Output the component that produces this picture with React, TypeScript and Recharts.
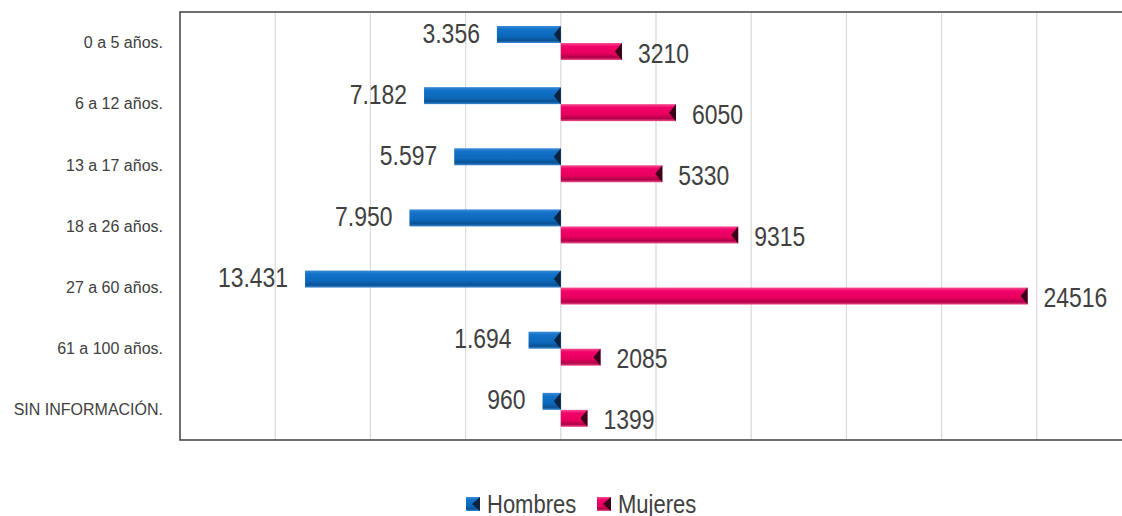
import { BarChart, Bar, XAxis, YAxis, CartesianGrid, LabelList, ReferenceArea } from "recharts";

const categories = [
  "0 a 5 años.",
  "6 a 12 años.",
  "13 a 17 años.",
  "18 a 26 años.",
  "27 a 60 años.",
  "61 a 100 años.",
  "SIN INFORMACIÓN.",
];
const hombres = [3356, 7182, 5597, 7950, 13431, 1694, 960];
const mujeres = [3210, 6050, 5330, 9315, 24516, 2085, 1399];
const gridTicks = [-15000, -10000, -5000, 0, 5000, 10000, 15000, 20000, 25000];
const X_MIN = -20000;
const X_MAX = 30000;

const data = categories.map((name, i) => ({
  name,
  hombres: -hombres[i],
  mujeres: mujeres[i],
}));

const FONT = "'Liberation Sans', Arial, sans-serif";
const TEXT = "#404040";
const SQUEEZE = 0.85; // source font is a narrow one

// dot as thousands separator, like the source
const fmtDot = (v: number) => Math.abs(v).toString().replace(/\B(?=(\d{3})+(?!\d))/g, ".");

function BevelBar(props: any) {
  const { x, y, width, height, fill, dark } = props;
  const x0 = Math.min(x, x + width);
  const w = Math.abs(width);
  if (!w) return null;
  const tip = Math.min(7, w);
  return (
    <g>
      <rect x={x0} y={y} width={w} height={height} fill={fill} />
      <polygon
        points={`${x0 + w},${y} ${x0 + w},${y + height} ${x0 + w - tip},${y + height / 2}`}
        fill={dark}
      />
    </g>
  );
}

function NarrowText({ x, y, anchor, children }: any) {
  return (
    <text
      transform={`translate(${x},${y}) scale(${SQUEEZE},1)`}
      textAnchor={anchor}
      dominantBaseline="middle"
      fontSize={27}
      fontFamily={FONT}
      fill={TEXT}
    >
      {children}
    </text>
  );
}

const HombresLabel = (props: any) => {
  const { x, y, width, height, value } = props;
  const left = Math.min(x, x + width);
  return <NarrowText x={left - 17} y={y + height / 2 + 1} anchor="end">{fmtDot(value)}</NarrowText>;
};

const MujeresLabel = (props: any) => {
  const { x, y, width, height, value } = props;
  const right = Math.max(x, x + width);
  return <NarrowText x={right + 16} y={y + height / 2 + 4} anchor="start">{value}</NarrowText>;
};

function LegendIcon({ grad, dark }: { grad: string; dark: string }) {
  return (
    <svg width={14} height={14} style={{ display: "block" }}>
      <rect x={0} y={0} width={14} height={14} fill={`url(#${grad})`} />
      <polygon points="14,0 14,14 6,7" fill={dark} />
    </svg>
  );
}

function LegendText({ children, width }: { children: string; width: number }) {
  return (
    <span style={{ display: "inline-block", width, whiteSpace: "nowrap" }}>
      <span style={{ display: "inline-block", transform: "scaleX(0.88)", transformOrigin: "left center" }}>
        {children}
      </span>
    </span>
  );
}

// vertical grid lines at the 5000 steps of the x domain
const gridX = (props: any) => {
  const scale = props?.xAxis?.scale;
  if (typeof scale === "function") return gridTicks.map((t) => scale(t));
  if (scale && typeof scale.map === "function") return gridTicks.map((t) => scale.map(t));
  const offset = props?.offset;
  if (!offset) return [];
  return gridTicks.map((t) => offset.left + ((t - X_MIN) / (X_MAX - X_MIN)) * offset.width);
};

export default function App() {
  return (
    <div style={{ position: "fixed", left: 0, top: 0, width: 1122, height: 516, background: "#fff", overflow: "hidden" }}>
      <svg width={0} height={0} style={{ position: "absolute" }}>
        <defs>
          <linearGradient id="gBlue" x1="0" y1="0" x2="0" y2="1">
            <stop offset="0%" stopColor="#3a8ad6" />
            <stop offset="20%" stopColor="#1272c8" />
            <stop offset="60%" stopColor="#0c69bc" />
            <stop offset="85%" stopColor="#0b5194" />
            <stop offset="100%" stopColor="#3a8ad4" />
          </linearGradient>
          <linearGradient id="gPink" x1="0" y1="0" x2="0" y2="1">
            <stop offset="0%" stopColor="#f4508f" />
            <stop offset="20%" stopColor="#f2006a" />
            <stop offset="60%" stopColor="#e8005e" />
            <stop offset="85%" stopColor="#b0004a" />
            <stop offset="100%" stopColor="#f0508a" />
          </linearGradient>
        </defs>
      </svg>
      <BarChart
        width={1132}
        height={448}
        data={data}
        layout="vertical"
        margin={{ top: 12, right: 0, bottom: 7, left: 0 }}
        barGap={0}
      >
        <CartesianGrid
          horizontal={false}
          stroke="#d9d9d9"
          strokeWidth={1.2}
          verticalCoordinatesGenerator={gridX}
        />
        <XAxis
          type="number"
          domain={[X_MIN, X_MAX]}
          allowDataOverflow
          ticks={gridTicks}
          tick={false}
          tickLine={false}
          axisLine={false}
          height={1}
        />
        <YAxis
          type="category"
          dataKey="name"
          width={180}
          tickLine={false}
          tickSize={0}
          tickMargin={17}
          axisLine={false}
          tick={{ fontSize: 16, fontFamily: FONT, fill: TEXT }}
          interval={0}
        />
        <ReferenceArea
          x1={X_MIN}
          x2={X_MAX + 2000}
          ifOverflow="visible"
          fill="none"
          fillOpacity={0}
          stroke="#404040"
          strokeWidth={1.5}
        />
        <Bar
          dataKey="hombres"
          name="Hombres"
          barSize={17}
          fill="url(#gBlue)"
          isAnimationActive={false}
          shape={(p: any) => <BevelBar {...p} fill="url(#gBlue)" dark="#0a2340" />}
        >
          <LabelList dataKey="hombres" content={HombresLabel} />
        </Bar>
        <Bar
          dataKey="mujeres"
          name="Mujeres"
          barSize={17}
          fill="url(#gPink)"
          isAnimationActive={false}
          shape={(p: any) => <BevelBar {...p} fill="url(#gPink)" dark="#3a0018" />}
        >
          <LabelList dataKey="mujeres" content={MujeresLabel} />
        </Bar>
      </BarChart>
      <div
        style={{
          position: "absolute",
          top: 489,
          left: 466,
          height: 30,
          display: "flex",
          alignItems: "center",
          fontFamily: FONT,
          fontSize: 25,
          color: TEXT,
        }}
      >
        <LegendIcon grad="gBlue" dark="#0a2340" />
        <span style={{ marginLeft: 7 }} />
        <LegendText width={110}>Hombres</LegendText>
        <LegendIcon grad="gPink" dark="#3a0018" />
        <span style={{ marginLeft: 7 }} />
        <LegendText width={90}>Mujeres</LegendText>
      </div>
    </div>
  );
}
